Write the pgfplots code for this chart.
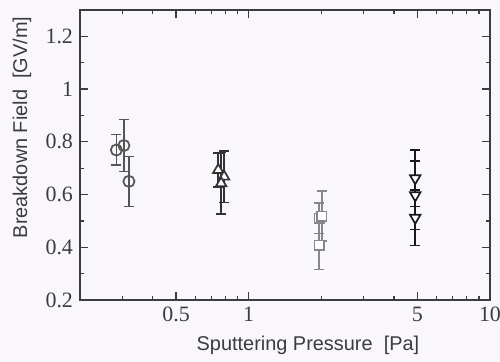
\documentclass[border=0pt]{standalone}
\usepackage{fontspec}
\setmainfont{Liberation Serif}
\setsansfont{Liberation Sans}
\usepackage{pgfplots}
\pgfplotsset{compat=1.18}
\definecolor{bgcol}{RGB}{250,247,252}
\definecolor{axcol}{RGB}{60,60,60}
\definecolor{circcol}{RGB}{85,85,85}
\definecolor{tricol}{RGB}{50,50,50}
\definecolor{sqcol}{RGB}{135,135,135}
\definecolor{itricol}{RGB}{25,25,25}
\begin{document}
\begin{tikzpicture}
\fill[bgcol] (-40bp,-31bp) rectangle (210bp,150bp);
\useasboundingbox (-40bp,-31bp) rectangle (210bp,150bp);
\begin{axis}[
  at={(0,0)}, anchor=south west,
  scale only axis, width=205bp, height=145bp,
  xmode=log, xmin=0.2, xmax=10,
  ymin=0.2, ymax=1.3,
  xtick={0.5,1,5,10}, xticklabels={0.5,1,5,10},
  minor xtick={0.3,0.4,0.6,0.7,0.8,0.9,2,3,4,6,7,8,9},
  ytick={0.2,0.4,0.6,0.8,1,1.2},
  yticklabels={0.2,0.4,0.6,0.8,1,1.2},
  minor ytick={0.3,0.5,0.7,0.9,1.1},
  tick align=inside,
  major tick length=4bp, minor tick length=2bp,
  axis line style={axcol, line width=0.75bp},
  every tick/.style={axcol, line width=0.6bp},
  tick label style={font=\fontsize{11}{12}\selectfont, text=axcol},
  /pgf/number format/assume math mode=true,
  xlabel={Sputtering Pressure~~[Pa]},
  ylabel={Breakdown Field~~[GV/m]},
  label style={font=\sffamily\fontsize{10}{12}\selectfont, text=axcol},
  xlabel style={at={(axis description cs:0.556,-0.155)}, anchor=center},
  ylabel style={at={(axis description cs:-0.1415,0.595)}, anchor=center},
  clip=false,
]
% circles
\addplot[circcol, line width=0.85bp, only marks, mark=o, mark size=2.8bp,
  mark options={fill=white, solid, line width=0.85bp},
  error bars/.cd, y dir=both, y explicit,
  error mark options={rotate=90, mark size=2.5bp, line width=0.8bp, circcol},
  error bar style={line width=0.8bp, circcol}]
  table[x=x, y=y, y error=e] {
x y e
0.283 0.769 0.058
0.304 0.786 0.099
0.319 0.650 0.095
};
% triangles
\addplot[tricol, line width=0.85bp, only marks, mark=triangle*, mark size=3bp,
  mark options={fill=white, solid, line width=0.85bp},
  error bars/.cd, y dir=both, y explicit,
  error mark options={rotate=90, mark size=2.5bp, line width=0.8bp, tricol},
  error bar style={line width=0.8bp, tricol}]
  table[x=x, y=y, y error=e] {
x y e
0.748 0.693 0.065
0.791 0.668 0.098
0.769 0.643 0.116
};
% squares
\addplot[sqcol, line width=0.85bp, only marks, mark=square*, mark size=2.4bp,
  mark options={fill=white, solid, line width=0.85bp},
  error bars/.cd, y dir=both, y explicit,
  error mark options={rotate=90, mark size=2.5bp, line width=0.8bp, sqcol},
  error bar style={line width=0.8bp, sqcol}]
  table[x=x, y=y, y error=e] {
x y e
1.96 0.408 0.092
1.96 0.510 0.057
2.01 0.518 0.095
};
% inverted triangles
\addplot[itricol, line width=0.85bp, only marks, mark=triangle*, mark size=3bp,
  mark options={fill=white, solid, rotate=180, line width=0.85bp},
  error bars/.cd, y dir=both, y explicit,
  error mark options={rotate=90, mark size=2.5bp, line width=0.8bp, itricol},
  error bar style={line width=0.8bp, itricol}]
  table[x=x, y=y, y error=e] {
x y e
4.9 0.662 0.108
4.9 0.597 0.130
4.9 0.512 0.105
};
\end{axis}
\end{tikzpicture}
\end{document}
